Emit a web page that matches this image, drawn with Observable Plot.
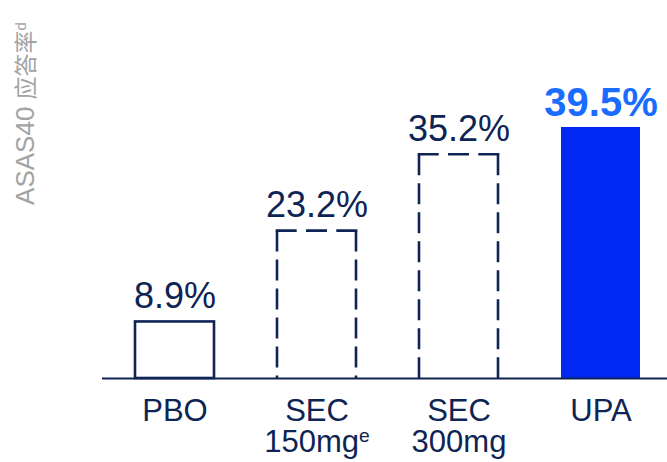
<!DOCTYPE html>
<html>
<head>
<meta charset="utf-8">
<script src="https://cdn.jsdelivr.net/npm/d3@7"></script>
<script src="https://cdn.jsdelivr.net/npm/@observablehq/plot@0.6"></script>
<style>
  html, body { margin: 0; padding: 0; background: #ffffff; }
  svg { overflow: visible; }
</style>
</head>
<body>
<div id="chart"></div>
<script>
const categories = ["PBO", "SEC\n150mg", "SEC\n300mg", "UPA"];
const values = [8.9, 23.2, 35.2, 39.5];
const valueLabels = ["8.9%", "23.2%", "35.2%", "39.5%"];
const yLabelLatin = "ASAS40 ";
const yLabelCJK = "应答率";
const yLabel = yLabelLatin + yLabelCJK;

const data = categories.map((c, i) => ({cat: c, value: values[i], label: valueLabels[i]}));

const navy = "#0e2454";
const font = "'Liberation Sans', Arial, 'Noto Sans CJK SC', sans-serif";

const plot = Plot.plot({
  width: 667,
  height: 462,
  marginLeft: 102,
  marginRight: 0,
  marginTop: 0,
  marginBottom: 84,
  style: {fontFamily: font, background: "#ffffff", overflow: "visible"},
  x: {domain: categories, range: [102.2, 672.9], paddingInner: 0.446, paddingOuter: 0.223},
  y: {domain: [0, 39.5], range: [378, 127], axis: null},
  marks: [
    Plot.barY(data.filter((d, i) => i === 0), {x: "cat", y: "value", fill: "none", stroke: navy, strokeWidth: 2.6}),
    Plot.barY(data.filter((d, i) => i === 1 || i === 2), {x: "cat", y: "value", fill: "none", stroke: "none", className: "dashbar"}),
    Plot.barY(data.filter((d, i) => i === 3), {x: "cat", y: "value", fill: "#0028f2"}),
    Plot.ruleY([0], {stroke: navy, strokeWidth: 2}),
    Plot.text(data.filter((d, i) => i < 3), {x: "cat", y: "value", text: "label", dy: -14, lineAnchor: "bottom", fontSize: 36, fill: navy}),
    Plot.text(data.filter((d, i) => i === 3), {x: "cat", y: "value", text: "label", dy: -12, lineAnchor: "bottom", fontSize: 40, fontWeight: "bold", fill: "#1a6cff"}),
    Plot.axisX({tickSize: 0, tickPadding: 20, fontSize: 31, lineHeight: 1, fill: navy, label: null, lineAnchor: "top"}),
    Plot.text([yLabel], {frameAnchor: "top-left", dx: -77, dy: 113, rotate: -90, textAnchor: "middle", lineAnchor: "middle", fontSize: 26, fill: "#a3a3a3", className: "ylab"})
  ]
});

const svg = d3.select(plot);

// dashed outlines drawn side by side (each side starts with a dash, as in the reference)
svg.selectAll("g.dashbar rect").each(function() {
  const r = d3.select(this);
  const x = +r.attr("x"), y = +r.attr("y"), w = +r.attr("width"), h = +r.attr("height");
  const g = d3.select(this.parentNode);
  const sw = 2.6, half = sw / 2;
  const line = (x1, y1, x2, y2, dash) => g.append("line")
    .attr("x1", x1).attr("y1", y1).attr("x2", x2).attr("y2", y2)
    .attr("stroke", navy).attr("stroke-width", sw).attr("stroke-dasharray", dash).attr("fill", "none");
  line(x - half, y, x + w + half, y, "21,9.3");
  line(x, y, x, y + h, "21,8");
  line(x + w, y, x + w, y + h, "21,8");
});

// superscript on tick label
svg.selectAll("tspan").filter(function() { return this.textContent === "150mg"; })
  .append("tspan").attr("baseline-shift", "super").attr("font-size", "0.62em").text("e");

// y label with mixed sizes and superscript
svg.selectAll("text").filter(function() { return this.textContent === yLabel; })
  .each(function() {
    const t = d3.select(this);
    t.text(null);
    t.append("tspan").text(yLabelLatin);
    t.append("tspan").attr("font-size", "23px").text(yLabelCJK);
    t.append("tspan").attr("baseline-shift", "super").attr("font-size", "15px").text("d");
  });

document.getElementById("chart").appendChild(plot);
</script>
</body>
</html>
